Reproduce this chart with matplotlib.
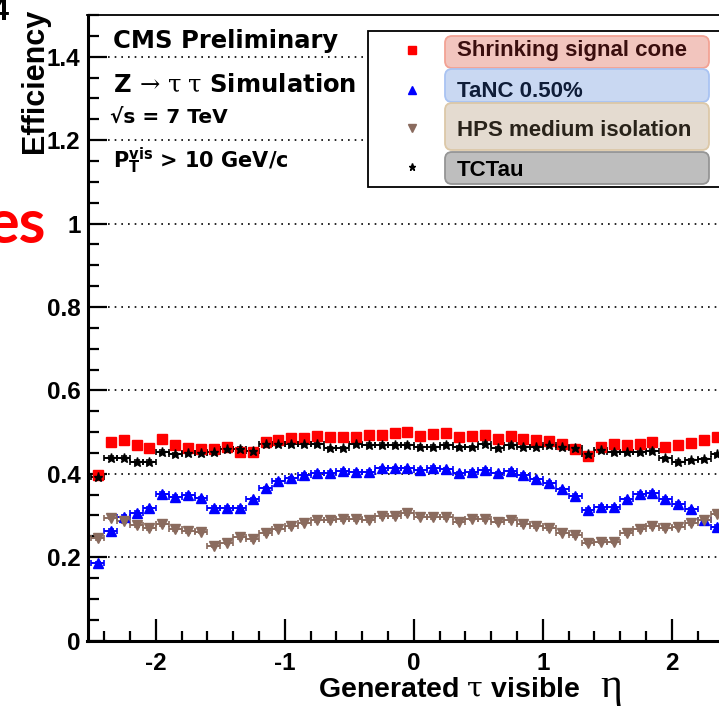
import numpy as np
import matplotlib
matplotlib.use("Agg")
import matplotlib.pyplot as plt
from matplotlib.patches import Rectangle, FancyBboxPatch
from matplotlib.lines import Line2D
from matplotlib.transforms import IdentityTransform
from matplotlib.ticker import MultipleLocator, FuncFormatter

plt.rcParams["axes.unicode_minus"] = False
plt.rcParams["mathtext.fontset"] = "custom"
plt.rcParams["mathtext.rm"] = "DejaVu Serif"
plt.rcParams["mathtext.it"] = "DejaVu Serif:italic"
plt.rcParams["mathtext.bf"] = "DejaVu Sans:bold"

W, H = 719, 709

# bin centres, 0.1 wide, from -2.45 up to the last bin visible in the picture
eta = np.round(np.arange(-2.45, 2.40, 0.1), 2)

shrinking = [0.397, 0.477, 0.480, 0.468, 0.461, 0.483, 0.469, 0.461, 0.459, 0.459,
             0.465, 0.453, 0.453, 0.475, 0.481, 0.485, 0.485, 0.491, 0.488, 0.489,
             0.489, 0.492, 0.493, 0.497, 0.501, 0.491, 0.496, 0.497, 0.487, 0.491,
             0.492, 0.484, 0.491, 0.484, 0.481, 0.479, 0.472, 0.460, 0.443, 0.465,
             0.472, 0.469, 0.471, 0.475, 0.464, 0.469, 0.473, 0.480, 0.489]
tanc = [0.185, 0.263, 0.297, 0.307, 0.317, 0.352, 0.345, 0.349, 0.341, 0.319,
        0.319, 0.319, 0.339, 0.365, 0.383, 0.389, 0.397, 0.403, 0.403, 0.407,
        0.405, 0.405, 0.413, 0.413, 0.413, 0.409, 0.415, 0.411, 0.401, 0.404,
        0.409, 0.401, 0.407, 0.397, 0.387, 0.379, 0.363, 0.347, 0.313, 0.321,
        0.321, 0.339, 0.352, 0.355, 0.340, 0.328, 0.315, 0.289, 0.273]
hps = [0.245, 0.295, 0.287, 0.277, 0.269, 0.279, 0.267, 0.263, 0.261, 0.228,
       0.235, 0.248, 0.244, 0.257, 0.268, 0.275, 0.283, 0.288, 0.288, 0.291,
       0.291, 0.288, 0.299, 0.299, 0.305, 0.297, 0.296, 0.296, 0.285, 0.292,
       0.291, 0.285, 0.289, 0.279, 0.275, 0.269, 0.259, 0.253, 0.235, 0.237,
       0.237, 0.257, 0.267, 0.275, 0.269, 0.273, 0.281, 0.289, 0.304]
tctau = [0.393, 0.439, 0.439, 0.428, 0.428, 0.452, 0.447, 0.449, 0.451, 0.452,
         0.459, 0.459, 0.455, 0.471, 0.471, 0.471, 0.471, 0.471, 0.461, 0.461,
         0.471, 0.469, 0.469, 0.469, 0.469, 0.464, 0.464, 0.469, 0.463, 0.463,
         0.472, 0.461, 0.469, 0.465, 0.465, 0.469, 0.465, 0.461, 0.447, 0.457,
         0.452, 0.452, 0.452, 0.455, 0.437, 0.428, 0.432, 0.435, 0.447]

labels = ["Shrinking signal cone", "TaNC 0.50%", "HPS medium isolation", "TCTau"]
styles = [
    dict(marker="s", color="#ff0000", ms=7.6),
    dict(marker="^", color="#0000ff", ms=7.5),
    dict(marker="v", color="#8a6b5e", ms=7.5),
    dict(marker="*", color="#000000", ms=6.5),
]
box_fill = ["#f2c5be", "#c9d8f2", "#e4dbd0", "#bebebe"]
box_edge = ["#f2a294", "#a9c3f2", "#dcc8a8", "#959595"]
text_col = ["#3a0e0e", "#0f1d38", "#29231a", "#000000"]

fig = plt.figure(figsize=(W / 100, H / 100), dpi=100)
ax = fig.add_axes([87.5 / W, 68.4 / H, 652.7 / W, 625.6 / H])
ax.set_xlim(-2.53, 2.53)
ax.set_ylim(0, 1.5)

series = [shrinking, tanc, hps, tctau]
for vals, st in zip(series, styles):
    xerr = None if st["marker"] == "s" else 0.05
    ax.errorbar(eta, vals, xerr=xerr, yerr=0.004, fmt=st["marker"], color=st["color"],
                ms=st["ms"], mec=st["color"], elinewidth=1.4, capsize=2.5,
                capthick=1.2, clip_on=True)

# ROOT-like frame and ticks
for side in ["top", "right"]:
    ax.spines[side].set_linewidth(1.3)
for side in ["left", "bottom"]:
    ax.spines[side].set_linewidth(2.2)
ax.xaxis.set_major_locator(MultipleLocator(1))
ax.xaxis.set_minor_locator(MultipleLocator(0.2))
ax.yaxis.set_major_locator(MultipleLocator(0.2))
ax.yaxis.set_minor_locator(MultipleLocator(0.05))
ax.yaxis.set_major_formatter(FuncFormatter(lambda v, p: f"{v:g}"))
ax.tick_params(which="both", direction="in", top=False, right=False, width=1.6)
ax.tick_params(axis="x", which="major", length=16, pad=8)
ax.tick_params(axis="x", which="minor", length=7.5)
ax.tick_params(axis="y", which="major", length=14, pad=5)
ax.tick_params(axis="y", which="minor", length=8)
for lab in ax.get_xticklabels() + ax.get_yticklabels():
    lab.set_fontfamily("Liberation Sans")
    lab.set_fontweight("bold")
    lab.set_fontsize(17.5)
ax.yaxis.grid(True, which="major", linestyle=(0, (1, 3)), color="black", linewidth=1.2)
ax.set_axisbelow(True)


def fx(px):
    return px / W


def fy(py):
    return 1 - py / H


# axis titles
fig.text(fx(35), fy(9), "Efficiency", rotation=90, ha="center", va="top",
         fontfamily="Liberation Sans", fontweight="bold", fontsize=22)
fig.text(fx(318), fy(697), r"Generated $\mathrm{\tau}$ visible", ha="left", va="baseline",
         fontfamily="Liberation Sans", fontweight="bold", fontsize=20.5)
fig.text(fx(600), fy(697), "η", ha="left", va="baseline",
         fontfamily="Liberation Serif", fontsize=30)

# info block
info = dict(fontfamily="DejaVu Sans", fontweight="bold", ha="left", va="baseline")
fig.text(fx(113), fy(48), "CMS Preliminary", fontsize=17.5, **info)
fig.text(fx(113), fy(92), r"Z$\,\rightarrow\,\mathrm{\tau}\;\mathrm{\tau}$ Simulation",
         fontsize=17.5, **info)
fig.text(fx(110), fy(123), "√s = 7 TeV", fontsize=14.5, **info)
fig.text(fx(113), fy(168), r"$\mathbf{P}_{\mathbf{T}}^{\mathbf{vis}}$ > 10 GeV/c", fontsize=15, **info)

# slide remnants at the left edge
fig.text(fx(46), fy(243), "es", ha="right", va="baseline", color="#ff0000",
         fontfamily="Lato", fontweight="bold", fontsize=44)
fig.text(fx(9), fy(20), "4", ha="right", va="baseline", color="black",
         fontfamily="Liberation Sans", fontweight="bold", fontsize=22)

# legend drawn with slide-style label boxes
pix = IdentityTransform()
fig.add_artist(Rectangle((368, H - 187), 400, 156, transform=pix, fill=True,
                         facecolor="white", edgecolor="black", linewidth=1.3))
box_rows = [(36, 68, 56), (69, 102, 97), (103, 150, 136), (152, 184, 176)]
marker_y = [50, 90, 128, 167]
for i, (lab, st) in enumerate(zip(labels, styles)):
    top, bot, base = box_rows[i]
    fig.add_artist(Line2D([412], [H - marker_y[i]], transform=pix, marker=st["marker"],
                          color=st["color"], ms=st["ms"] * 0.8, linestyle="none"))
    fig.add_artist(FancyBboxPatch((445, H - bot), 264, bot - top, transform=pix,
                                  boxstyle="round,pad=0,rounding_size=7",
                                  facecolor=box_fill[i], edgecolor=box_edge[i], linewidth=1.3))
    fig.text(fx(457), fy(base), lab, ha="left", va="baseline", color=text_col[i],
             fontfamily="Liberation Sans", fontweight="bold", fontsize=16)

fig.savefig("out.png", dpi=100)
